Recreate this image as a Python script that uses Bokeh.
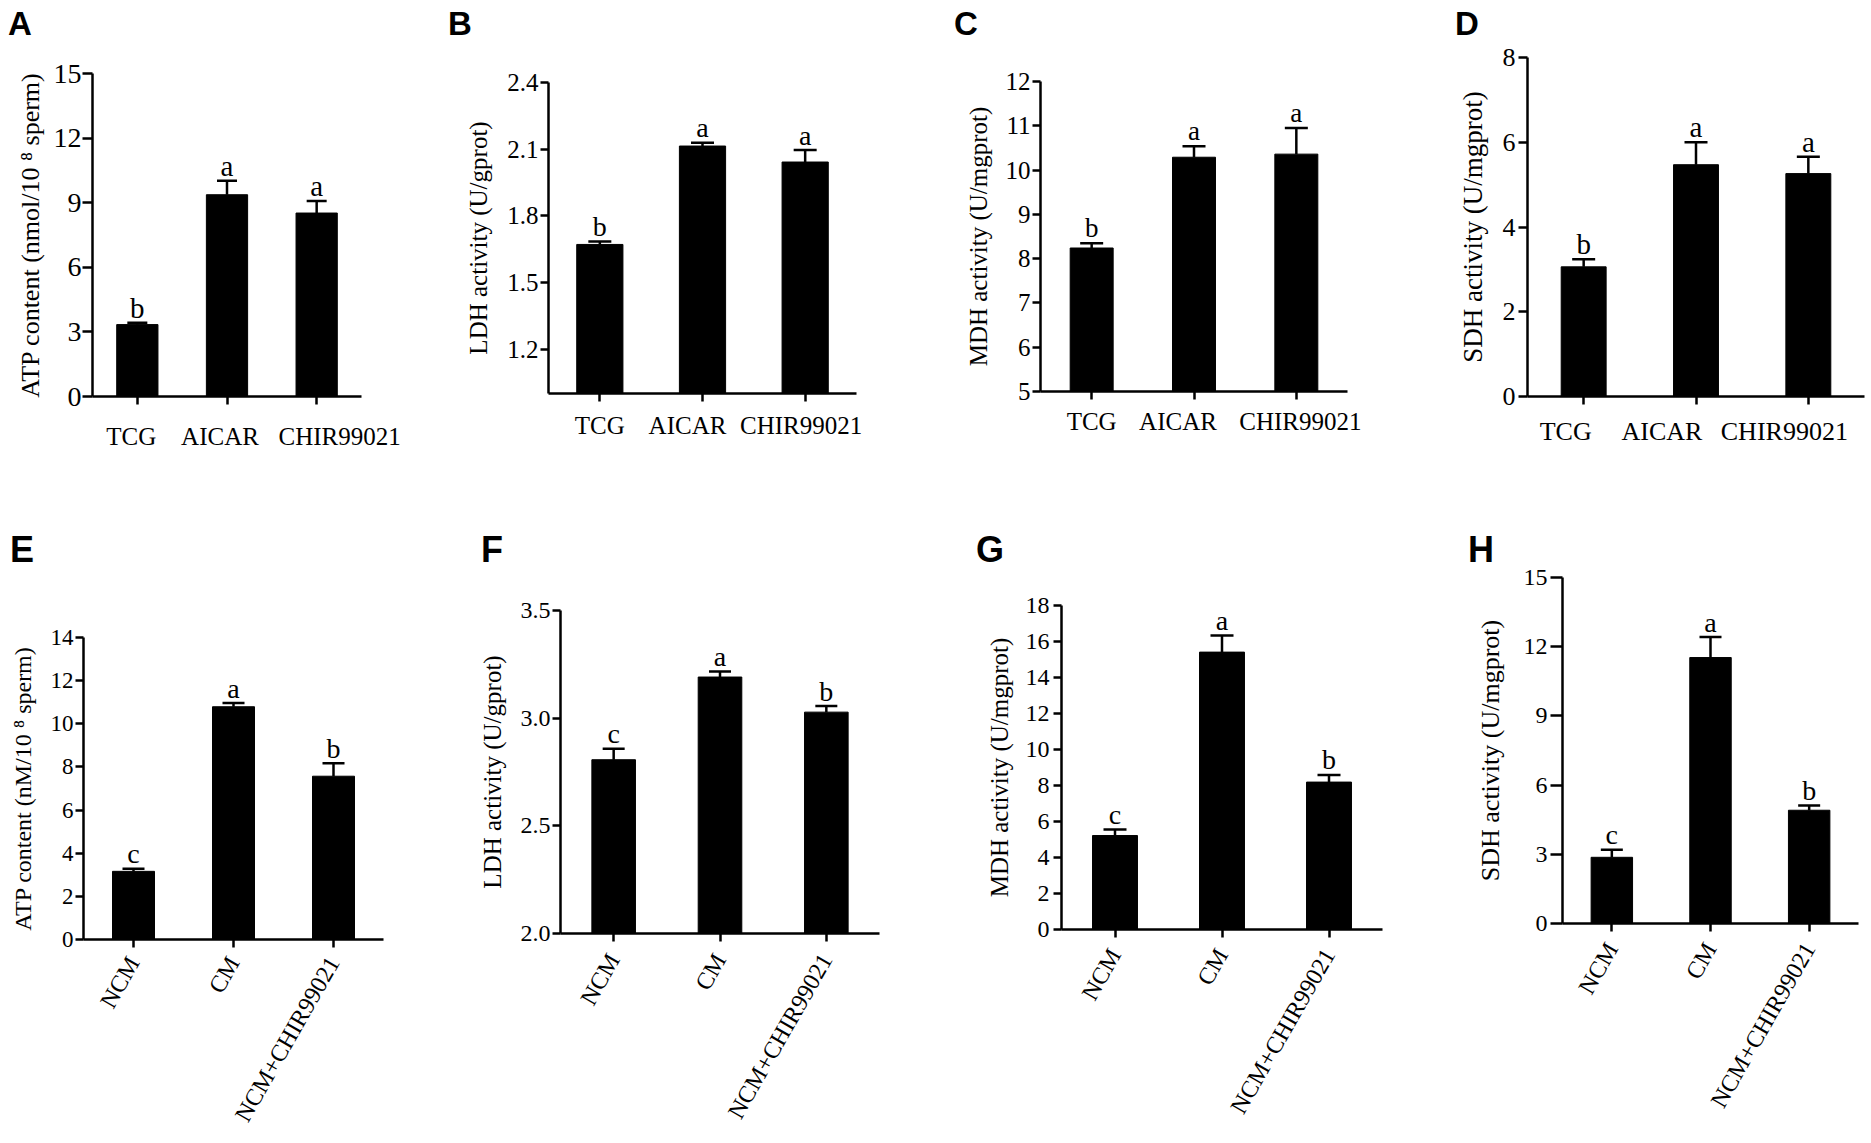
from bokeh.plotting import figure
from bokeh.models import (ColumnDataSource, FixedTicker, NumeralTickFormatter, Range1d, FactorRange, Div,
                          LinearAxis, CustomJSTickFormatter)
from bokeh.layouts import row, column
from bokeh.embed import file_html
from bokeh.resources import INLINE
from bokeh.core.properties import value

# ---------------- data ----------------
top_groups = ["TCG", "AICAR", "CHIR99021"]
bottom_groups = ["NCM", "CM", "NCM+CHIR99021"]

sig_top = ["b", "a", "a"]
sig_bottom = ["c", "a", "b"]

atp_top = [3.34, 9.37, 8.52]
atp_top_err = [0.09, 0.65, 0.56]
ldh_top = [1.671, 2.114, 2.042]
ldh_top_err = [0.013, 0.015, 0.054]
mdh_top = [8.24, 10.29, 10.36]
mdh_top_err = [0.11, 0.25, 0.59]
sdh_top = [3.06, 5.47, 5.26]
sdh_top_err = [0.18, 0.53, 0.40]

atp_bottom = [3.16, 10.79, 7.57]
atp_bottom_err = [0.12, 0.17, 0.60]
ldh_bottom = [2.807, 3.191, 3.028]
ldh_bottom_err = [0.051, 0.026, 0.028]
mdh_bottom = [5.22, 15.41, 8.19]
mdh_bottom_err = [0.34, 0.92, 0.40]
sdh_bottom = [2.87, 11.53, 4.91]
sdh_bottom_err = [0.33, 0.89, 0.21]

ticks_a = [0, 3, 6, 9, 12, 15]
ticks_b = [1.2, 1.5, 1.8, 2.1, 2.4]
ticks_c = [5, 6, 7, 8, 9, 10, 11, 12]
ticks_d = [0, 2, 4, 6, 8]
ticks_e = [0, 2, 4, 6, 8, 10, 12, 14]
ticks_f = [2.0, 2.5, 3.0, 3.5]
ticks_g = [0, 2, 4, 6, 8, 10, 12, 14, 16, 18]
ticks_h = [0, 3, 6, 9, 12, 15]

ylabel_a = "ATP content (nmol/10 \u2078 sperm)"
ylabel_b = "LDH activity (U/gprot)"
ylabel_c = "MDH activity (U/mgprot)"
ylabel_d = "SDH activity (U/mgprot)"
ylabel_e = "ATP content (nM/10 \u2078 sperm)"
ylabel_f = "LDH activity (U/gprot)"
ylabel_g = "MDH activity (U/mgprot)"
ylabel_h = "SDH activity (U/mgprot)"

SERIF = "Liberation Serif"

# ---------------- panel layout / style ----------------
TOP_DIV, BOT_DIV = 38, 54
TOP_H, BOT_H = 508 - TOP_DIV, 633 - BOT_DIV

panels = [
    dict(letter="A", groups=top_groups, vals=atp_top, errs=atp_top_err, sig=sig_top, ylabel=ylabel_a,
         yr=(0, 15), ticks=ticks_a, fmt="0", W=440, L=92, R=79, T=73 - TOP_DIV, B=112,
         tick_fs=28, tick_out=10, lab_so=1, ylab_fs=26, ylab_so=6, x_fs=25, x_so=18, shift=[-6, -7, 23],
         rot=None, sig_fs=29, bar_w=0.46, cap=20, lpl=8, lfs=33),
    dict(letter="B", groups=top_groups, vals=ldh_top, errs=ldh_top_err, sig=sig_top, ylabel=ylabel_b,
         yr=(1.0, 2.4), ticks=ticks_b, fmt="0.0", W=480, L=108, R=64, T=82 - TOP_DIV, B=115,
         tick_fs=25, tick_out=8, lab_so=2, ylab_fs=25, ylab_so=12, x_fs=25, x_so=10, shift=[0, -15, -4],
         rot=None, sig_fs=28, bar_w=0.45, cap=23, lpl=8, lfs=33),
    dict(letter="C", groups=top_groups, vals=mdh_top, errs=mdh_top_err, sig=sig_top, ylabel=ylabel_c,
         yr=(5, 12), ticks=ticks_c, fmt="0", W=480, L=120, R=53, T=81 - TOP_DIV, B=117,
         tick_fs=25, tick_out=8, lab_so=2, ylab_fs=25, ylab_so=11, x_fs=25, x_so=8, shift=[0, -16, 4],
         rot=None, sig_fs=27, bar_w=0.42, cap=23, lpl=34, lfs=33),
    dict(letter="D", groups=top_groups, vals=sdh_top, errs=sdh_top_err, sig=sig_top, ylabel=ylabel_d,
         yr=(0, 8), ticks=ticks_d, fmt="0", W=469, L=127, R=5, T=57 - TOP_DIV, B=112,
         tick_fs=26, tick_out=9, lab_so=3, ylab_fs=27, ylab_so=12, x_fs=26, x_so=12, shift=[-18, -34, -24],
         rot=None, sig_fs=29, bar_w=0.40, cap=23, lpl=55, lfs=33),
    dict(letter="E", groups=bottom_groups, vals=atp_bottom, errs=atp_bottom_err, sig=sig_bottom, ylabel=ylabel_e,
         yr=(0, 14), ticks=ticks_e, fmt="0", W=460, L=83, R=77, T=129 - BOT_DIV, B=202,
         tick_fs=23, tick_out=8, lab_so=2, ylab_fs=24, ylab_so=12, x_fs=24, x_so=11, shift=None,
         rot=1.05, sig_fs=28, bar_w=0.42, cap=22, lpl=10, lfs=36),
    dict(letter="F", groups=bottom_groups, vals=ldh_bottom, errs=ldh_bottom_err, sig=sig_bottom, ylabel=ylabel_f,
         yr=(2.0, 3.5), ticks=ticks_f, fmt="0.0", W=480, L=100, R=61, T=102 - BOT_DIV, B=208,
         tick_fs=24, tick_out=8, lab_so=2, ylab_fs=25, ylab_so=12, x_fs=24, x_so=14, shift=None,
         rot=1.05, sig_fs=28, bar_w=0.41, cap=22, lpl=21, lfs=36),
    dict(letter="G", groups=bottom_groups, vals=mdh_bottom, errs=mdh_bottom_err, sig=sig_bottom, ylabel=ylabel_g,
         yr=(0, 18), ticks=ticks_g, fmt="0", W=480, L=121, R=38, T=97 - BOT_DIV, B=212,
         tick_fs=24, tick_out=8, lab_so=4, ylab_fs=25, ylab_so=10, x_fs=24, x_so=13, shift=None,
         rot=1.05, sig_fs=28, bar_w=0.42, cap=23, lpl=36, lfs=36),
    dict(letter="H", groups=bottom_groups, vals=sdh_bottom, errs=sdh_bottom_err, sig=sig_bottom, ylabel=ylabel_h,
         yr=(0, 15), ticks=ticks_h, fmt="0", W=449, L=142, R=11, T=15, B=218,
         tick_fs=24, tick_out=12, lab_so=3, ylab_fs=26, ylab_so=16, x_fs=24, x_so=13, shift=None,
         rot=1.05, sig_fs=28, bar_w=0.42, cap=22, lpl=48, lfs=36),
]


def style_axis(ax):
    ax.axis_line_width = 2.5
    ax.axis_line_color = "black"
    ax.major_tick_line_width = 2.5
    ax.major_tick_line_color = "black"
    ax.major_tick_in = 0
    ax.minor_tick_line_color = None
    ax.major_label_text_font = SERIF
    ax.major_label_text_color = "black"
    ax.axis_label_text_font = SERIF
    ax.axis_label_text_font_style = "normal"
    ax.axis_label_text_color = "black"


def make_panel(c, fig_h, div_h, pad_top, line_h):
    y0, y1 = c["yr"]
    fw = c["W"] - c["L"] - c["R"]
    fh = fig_h - c["T"] - c["B"]
    groups = c["groups"]
    n = len(groups)
    upper = [v + e for v, e in zip(c["vals"], c["errs"])]
    gap = 15 * (y1 - y0) / fh          # letters sit just above the error cap
    sig_y = [u + gap for u in upper]
    nudged = c["shift"] is not None
    if nudged:
        xs = [i + 0.5 for i in range(n)]          # slot centres of the groups
        x_range = Range1d(0, n)
    else:
        xs = list(groups)
        x_range = FactorRange(factors=groups)
    src = ColumnDataSource(dict(x=xs, cat=groups, val=c["vals"], upper=upper, sig=c["sig"], sig_y=sig_y))

    p = figure(x_range=x_range, y_range=Range1d(y0, y1),
               width=c["W"], height=fig_h, title=None,
               min_border_left=c["L"], min_border_right=c["R"],
               min_border_top=c["T"], min_border_bottom=c["B"],
               output_backend="svg", toolbar_location=None, tools="")
    p.outline_line_color = None
    p.background_fill_color = "white"
    p.border_fill_color = "white"
    p.xgrid.grid_line_color = None
    p.ygrid.grid_line_color = None

    p.vbar(x="x", top="val", width=c["bar_w"], source=src, fill_color="black", line_color="black")
    p.segment(x0="x", y0="val", x1="x", y1="upper", source=src, line_color="black", line_width=2.5)
    p.scatter(x="x", y="upper", marker="dash", size=c["cap"], source=src, line_color="black", line_width=2.5)
    p.text(x="x", y="sig_y", text="sig", source=src, text_font=value(SERIF),
           text_font_size=f"{c['sig_fs']}px", text_align="center", text_baseline="alphabetic",
           text_color="black")

    ya = p.yaxis[0]
    style_axis(ya)
    ya.ticker = FixedTicker(ticks=c["ticks"])
    ya.formatter = NumeralTickFormatter(format=c["fmt"])
    ya.axis_label = c["ylabel"]
    ya.axis_label_text_font_size = f"{c['ylab_fs']}px"
    ya.axis_label_standoff = c["ylab_so"]
    ya.major_label_text_font_size = f"{c['tick_fs']}px"
    ya.major_tick_out = c["tick_out"]
    ya.major_label_standoff = c["lab_so"]

    xa = p.xaxis[0]
    style_axis(xa)
    xa.major_tick_out = 8
    if nudged:
        # tick marks under the bars; names on a second axis, nudged sideways as in the original
        xa.ticker = FixedTicker(ticks=xs, minor_ticks=[])
        xa.major_label_text_color = None
        xa.major_label_text_font_size = "1px"
        xa.major_label_standoff = 0
        cw = fw / n
        pos = [x + s / cw for x, s in zip(xs, c["shift"])]
        lab = LinearAxis(ticker=FixedTicker(ticks=pos, minor_ticks=[]),
                         formatter=CustomJSTickFormatter(args=dict(names=groups), code="return names[index];"))
        style_axis(lab)
        lab.axis_line_color = None
        lab.major_tick_line_color = None
        lab.major_tick_out = 0
        lab.major_label_standoff = c["x_so"]
        lab.major_label_text_font_size = f"{c['x_fs']}px"
        p.add_layout(lab, "below")
    else:
        xa.major_label_text_font_size = f"{c['x_fs']}px"
        xa.major_label_standoff = c["x_so"]
        xa.major_label_orientation = c["rot"]

    html = (f'<div style="margin:0;padding:{pad_top}px 0 0 {c["lpl"]}px;'
            f"font-family:'Liberation Sans',Arial,sans-serif;font-weight:bold;"
            f'font-size:{c["lfs"]}px;line-height:{line_h}px;color:#000;">{c["letter"]}</div>')
    d = Div(text=html, width=c["W"], height=div_h, margin=(0, 0, 0, 0))
    return column(d, p, spacing=0)


tops = [make_panel(c, TOP_H, TOP_DIV, 10, 28) for c in panels[:4]]
bots = [make_panel(c, BOT_H, BOT_DIV, 31, 22) for c in panels[4:]]
layout = column(row(*tops, spacing=0), row(*bots, spacing=0), spacing=0)

open("out.html", "w").write(file_html(layout, INLINE))
